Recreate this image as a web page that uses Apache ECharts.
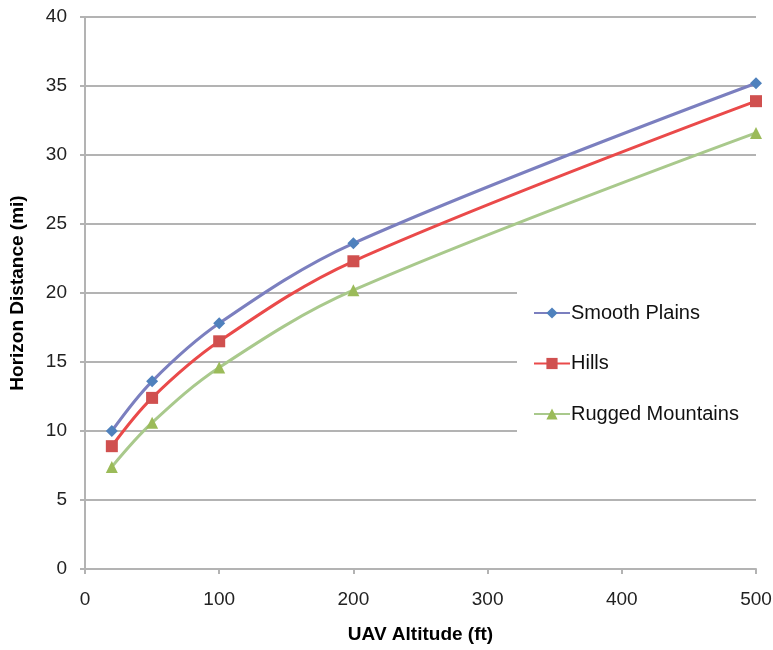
<!DOCTYPE html>
<html><head><meta charset="utf-8">
<script src="https://cdn.jsdelivr.net/npm/echarts@6/dist/echarts.min.js"></script>
<style>html,body{margin:0;padding:0;background:#fff}#c{width:773px;height:650px}</style>
</head><body><div id="c"></div>
<script>
var altitudes = [20, 50, 100, 200, 500];
var smoothPlains = [10.0, 13.6, 17.8, 23.6, 35.2];
var hills = [8.9, 12.4, 16.5, 22.3, 33.9];
var ruggedMountains = [7.4, 10.6, 14.6, 20.2, 31.6];
var seriesNames = ['Smooth Plains', 'Hills', 'Rugged Mountains'];

function pairs(ys){ return altitudes.map(function(x,i){ return [x, ys[i]]; }); }

var font = 'Liberation Sans, Arial, sans-serif';
var chart = echarts.init(document.getElementById('c'), null, {renderer:'canvas'});
chart.setOption({
  animation:false,
  backgroundColor:'#fff',
  grid:{left:85, right:17, top:17, bottom:81, containLabel:false, outerBoundsMode:'none'},
  graphic:[{type:'rect', left:517, top:283, z:3, silent:true,
    shape:{width:256, height:158}, style:{fill:'#fff'}}],
  xAxis:{
    type:'value', min:0, max:500, interval:100,
    name:'UAV Altitude (ft)', nameLocation:'middle', nameGap:56,
    nameTextStyle:{fontFamily:font, fontSize:19, fontWeight:'bold', color:'#000'},
    axisLine:{show:true, onZero:false, lineStyle:{color:'#b3b3b3', width:2}},
    axisTick:{show:true, length:5, lineStyle:{color:'#b3b3b3', width:2}},
    axisLabel:{fontFamily:font, fontSize:19, color:'#222', margin:21},
    splitLine:{show:false}
  },
  yAxis:{
    type:'value', min:0, max:40, interval:5,
    name:'Horizon Distance (mi)', nameLocation:'middle', nameGap:58,
    nameTextStyle:{fontFamily:font, fontSize:19, fontWeight:'bold', color:'#000'},
    axisLine:{show:true, lineStyle:{color:'#b3b3b3', width:2}},
    axisTick:{show:true, length:5, lineStyle:{color:'#b3b3b3', width:2}},
    axisLabel:{fontFamily:font, fontSize:19, color:'#222', margin:18},
    splitLine:{show:true, lineStyle:{color:'#b3b3b3', width:2}}
  },
  legend:{
    orient:'vertical', left:533, top:303, z:5,
    padding:0,
    itemGap:30.5, itemWidth:36, itemHeight:14,
    textStyle:{fontFamily:font, fontSize:20, color:'#111', padding:[0,0,0,-4]},
    data:seriesNames
  },
  series:[
    {name:seriesNames[0], type:'line', smooth:0.35, data:pairs(smoothPlains),
     symbol:'diamond', symbolSize:12,
     lineStyle:{color:'#7b7fbf', width:3}, itemStyle:{color:'#4f81bd'}},
    {name:seriesNames[1], type:'line', smooth:0.35, data:pairs(hills),
     symbol:'rect', symbolSize:12,
     lineStyle:{color:'#ea4a4a', width:3}, itemStyle:{color:'#d0504f'}},
    {name:seriesNames[2], type:'line', smooth:0.35, data:pairs(ruggedMountains),
     symbol:'triangle', symbolSize:12,
     lineStyle:{color:'#a9c98c', width:3}, itemStyle:{color:'#9bbb59'}}
  ]
});
</script></body></html>
